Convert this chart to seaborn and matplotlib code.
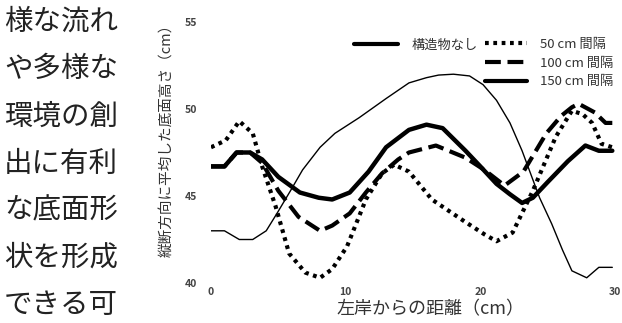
import pandas as pd
import numpy as np
import seaborn as sns
import matplotlib.pyplot as plt
from matplotlib.lines import Line2D

# body text column on the left
body_lines = ['様な流れ', 'や多様な', '環境の創', '出に有利', 'な底面形', '状を形成', 'できる可']

# 構造物なし (thin solid)
x_none = [0, 1, 2.1, 3.1, 4.1, 4.9, 5.9, 6.8, 8.1, 9.2, 11, 13, 14.7, 16, 16.9, 18, 19.2,
          20.2, 21.2, 22.2, 23.1, 24.4, 25.3, 26.1, 26.8, 27.9, 28.8, 29.8]
y_none = [43.0, 43.0, 42.5, 42.5, 43.0, 44.0, 45.3, 46.5, 47.8, 48.6, 49.5, 50.6, 51.5, 51.8,
          51.95, 52.0, 51.9, 51.4, 50.5, 49.2, 47.6, 44.9, 43.4, 41.9, 40.7, 40.3, 40.9, 40.9]

# 50 cm 間隔 (dotted)
x_50 = [0, 1.1, 2.1, 3.1, 3.8, 4.8, 5.8, 7.0, 8.1, 9.0, 10.1, 11.5, 12.7, 13.6, 14.7, 16.4,
        18.9, 20.3, 21.2, 22.4, 23.9, 25.6, 26.8, 27.6, 28.3, 29.0, 29.8]
y_50 = [47.8, 48.2, 49.3, 48.6, 46.7, 44.4, 41.7, 40.6, 40.3, 40.8, 42.1, 44.8, 46.3, 46.8,
        46.4, 44.8, 43.5, 42.8, 42.4, 42.9, 45.3, 48.4, 49.9, 49.7, 49.2, 48.0, 47.8]

# 100 cm 間隔 (dashed)
x_100 = [0, 1, 1.9, 2.9, 3.8, 5.0, 6.5, 8.1, 9.0, 10.3, 11.5, 12.7, 13.9, 14.7, 16.7, 18.9,
         20.3, 21.3, 21.8, 23.2, 24.9, 26.0, 26.8, 27.3, 28.5, 29.3, 29.8]
y_100 = [46.7, 46.7, 47.5, 47.5, 46.9, 45.3, 43.8, 43.0, 43.3, 44.0, 45.2, 46.3, 47.1, 47.5,
         47.9, 47.2, 46.5, 45.9, 45.6, 46.4, 48.6, 49.6, 50.1, 50.3, 49.8, 49.2, 49.2]

# 150 cm 間隔 (thick solid)
x_150 = [0, 1, 1.9, 2.9, 3.8, 5.0, 6.6, 8.0, 9.0, 10.3, 11.7, 13.0, 14.7, 16.0, 17.2, 18.9,
         20.0, 21.2, 22.2, 23.1, 23.9, 25.0, 26.5, 27.8, 28.8, 29.8]
y_150 = [46.7, 46.7, 47.5, 47.5, 47.1, 46.1, 45.2, 44.9, 44.8, 45.2, 46.4, 47.8, 48.8, 49.1,
         48.9, 47.6, 46.7, 45.7, 45.1, 44.6, 44.9, 45.8, 47.0, 47.9, 47.6, 47.6]

x_ticks = [0, 10, 20, 30]
y_ticks = [40, 45, 50, 55]

sns.set_style('white')
plt.rcParams['font.family'] = ['Noto Sans CJK JP', 'DejaVu Sans']

W, H = 622, 323
fig = plt.figure(figsize=(6.22, 3.23), dpi=100)
ax = fig.add_axes([211 / W, (H - 283) / H, (615 - 211) / W, (283 - 22) / H])

sns.lineplot(x=x_none, y=y_none, ax=ax, color='black', lw=1.0, sort=False)
sns.lineplot(x=x_50, y=y_50, ax=ax, color='black', lw=3.0, linestyle=(0, (0.9, 1.1)), sort=False)
sns.lineplot(x=x_100, y=y_100, ax=ax, color='black', lw=3.0, linestyle=(0, (3.8, 1.6)), sort=False)
sns.lineplot(x=x_150, y=y_150, ax=ax, color='black', lw=3.2, sort=False)

ax.set_xlim(0, 30)
ax.set_ylim(40, 55)
ax.set_xticks(x_ticks)
ax.set_yticks(y_ticks)
ax.tick_params(length=0, labelsize=7.5, labelcolor='#444444')
ax.tick_params(axis='x', pad=3)
ax.tick_params(axis='y', pad=10)
for lab in ax.get_xticklabels() + ax.get_yticklabels():
    lab.set_fontweight('bold')
sns.despine(ax=ax, left=True, bottom=True)

ax.set_ylabel('縦断方向に平均した底面高さ（cm）', fontsize=10.5, color='#333333')
ax.yaxis.set_label_coords((173 - 211) / 404, (283 - 137) / 261)
ax.set_xlabel('左岸からの距離（cm）', fontsize=13, color='#333333')
ax.xaxis.set_label_coords((430 - 211) / 404, -(300 - 283) / 261)

# legends
h_none = [Line2D([], [], color='black', lw=3.0)]
fig.legend(h_none, ['構造物なし'], loc='upper left', frameon=False,
           bbox_to_anchor=(347 / W, 1 - 32 / H), borderpad=0, handlelength=3.4,
           handletextpad=1.0, fontsize=9.5, labelcolor='#333333')
h_int = [Line2D([], [], color='black', lw=3.0, linestyle=(0, (0.9, 1.1))),
         Line2D([], [], color='black', lw=3.0, linestyle=(0, (3.8, 1.6))),
         Line2D([], [], color='black', lw=3.0)]
fig.legend(h_int, ['50 cm 間隔', '100 cm 間隔', '150 cm 間隔'], loc='upper left', frameon=False,
           bbox_to_anchor=(478 / W, 1 - 31 / H), borderpad=0, handlelength=3.2,
           handletextpad=1.0, labelspacing=0.45, fontsize=9.5, labelcolor='#333333')

for i, line in enumerate(body_lines):
    fig.text(4 / W, 1 - (22 + 47.2 * i) / H, line, fontsize=20.5, va='center', ha='left',
             color='#222222')

fig.savefig('out.png', dpi=100)
